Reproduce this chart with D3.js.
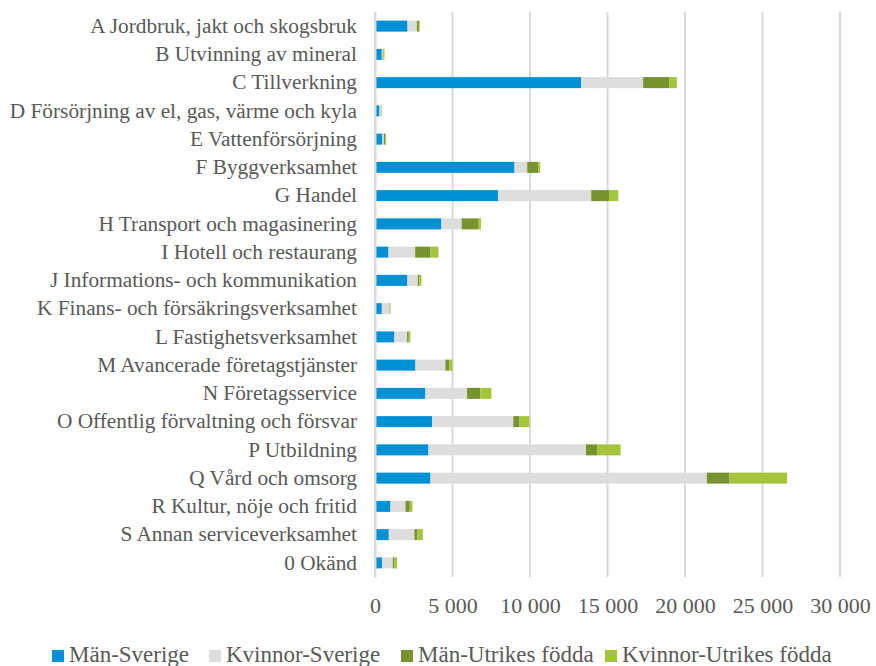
<!DOCTYPE html>
<html>
<head>
<meta charset="utf-8">
<script src="https://cdn.jsdelivr.net/npm/d3@7"></script>
<style>
  body { margin: 0; background: #fff; }
</style>
</head>
<body>
<svg id="chart"></svg>
<script>
// categories (top to bottom)
var categories = [
  "A Jordbruk, jakt och skogsbruk",
  "B Utvinning av mineral",
  "C Tillverkning",
  "D Försörjning av el, gas, värme och kyla",
  "E Vattenförsörjning",
  "F Byggverksamhet",
  "G Handel",
  "H Transport och magasinering",
  "I Hotell och restaurang",
  "J Informations- och kommunikation",
  "K Finans- och försäkringsverksamhet",
  "L Fastighetsverksamhet",
  "M Avancerade företagstjänster",
  "N Företagsservice",
  "O Offentlig förvaltning och försvar",
  "P Utbildning",
  "Q Vård och omsorg",
  "R Kultur, nöje och fritid",
  "S Annan serviceverksamhet",
  "0 Okänd"
];

var seriesNames = ["Män-Sverige", "Kvinnor-Sverige", "Män-Utrikes födda", "Kvinnor-Utrikes födda"];

var manSverige     = [2100, 440, 13300, 290, 480, 9000, 7950, 4280, 870, 2090, 440, 1250, 2610, 3250, 3680, 3450, 3580, 1000, 890, 460];
var kvinnorSverige = [600, 65, 4000, 130, 90, 820, 6000, 1310, 1720, 670, 490, 820, 1930, 2690, 5240, 10160, 17830, 965, 1655, 690];
var manUtrikes     = [130, 45, 1675, 15, 100, 710, 1150, 1100, 990, 105, 20, 105, 260, 860, 410, 710, 1460, 280, 195, 105];
var kvinnorUtrikes = [60, 60, 500, 20, 45, 130, 600, 150, 515, 130, 45, 105, 195, 710, 620, 1525, 3715, 170, 345, 170];

var tickValues = [0, 5000, 10000, 15000, 20000, 25000, 30000];

var colours = ["#0091d5", "#dddddd", "#77932f", "#a3c43b"];

var serif = "'Liberation Serif', 'Times New Roman', serif";
var width = 876, height = 666;
var margin = {top: 12, left: 375, right: 36, bottom: 89};

var svg = d3.select("#chart")
  .attr("width", width)
  .attr("height", height)
  .style("font-family", serif);

var x = d3.scaleLinear()
  .domain([0, 30000])
  .range([margin.left, 840]);

var y = d3.scaleBand()
  .domain(categories)
  .range([margin.top, height - margin.bottom])
  .paddingInner(0.61)
  .paddingOuter(0.305);

// gridlines
svg.append("g")
  .selectAll("line")
  .data(tickValues)
  .enter()
  .append("line")
  .attr("x1", function(d){ return x(d); })
  .attr("x2", function(d){ return x(d); })
  .attr("y1", margin.top)
  .attr("y2", height - margin.bottom)
  .attr("stroke", "#d9d9d9")
  .attr("stroke-width", 2);

// stack the data
var rows = categories.map(function(c, i){
  return {
    cat: c,
    "Män-Sverige": manSverige[i],
    "Kvinnor-Sverige": kvinnorSverige[i],
    "Män-Utrikes födda": manUtrikes[i],
    "Kvinnor-Utrikes födda": kvinnorUtrikes[i]
  };
});
var stacked = d3.stack().keys(seriesNames)(rows);

svg.append("g")
  .selectAll("g")
  .data(stacked)
  .enter()
  .append("g")
  .attr("fill", function(d, i){ return colours[i]; })
  .selectAll("rect")
  .data(function(d){ return d; })
  .enter()
  .append("rect")
  .attr("x", function(d){ return x(d[0]); })
  .attr("y", function(d){ return y(d.data.cat); })
  .attr("width", function(d){ return x(d[1]) - x(d[0]); })
  .attr("height", y.bandwidth());

// category axis
var yAxis = svg.append("g")
  .attr("transform", "translate(" + margin.left + ",0)")
  .call(d3.axisLeft(y).tickSize(0).tickPadding(18))
  .attr("font-family", serif);
yAxis.select(".domain").attr("stroke", "#d9d9d9").attr("stroke-width", 2);
yAxis.selectAll("text")
  .style("font-family", serif)
  .style("font-size", "21.3px")
  .attr("fill", "#595959");

// value axis
var fmt = function(d){ return d3.format(",")(d).replace(/,/g, " "); };
var xAxis = svg.append("g")
  .attr("transform", "translate(0," + (height - margin.bottom) + ")")
  .call(d3.axisBottom(x).tickValues(tickValues).tickFormat(fmt).tickSize(0).tickPadding(20))
  .attr("font-family", serif);
xAxis.select(".domain").remove();
xAxis.selectAll("text")
  .style("font-family", serif)
  .style("font-size", "22px")
  .attr("fill", "#595959");

// legend
var legendX = [52, 209, 401, 605];
var legend = svg.append("g");
var items = legend.selectAll("g")
  .data(seriesNames)
  .enter()
  .append("g")
  .attr("transform", function(d, i){ return "translate(" + legendX[i] + ",650)"; });
items.append("rect")
  .attr("width", 12)
  .attr("height", 12)
  .attr("fill", function(d, i){ return colours[i]; });
items.append("text")
  .attr("x", 17)
  .attr("y", 12)
  .style("font-family", serif)
  .style("font-size", "23px")
  .attr("fill", "#595959")
  .text(function(d){ return d; });
</script>
</body>
</html>
